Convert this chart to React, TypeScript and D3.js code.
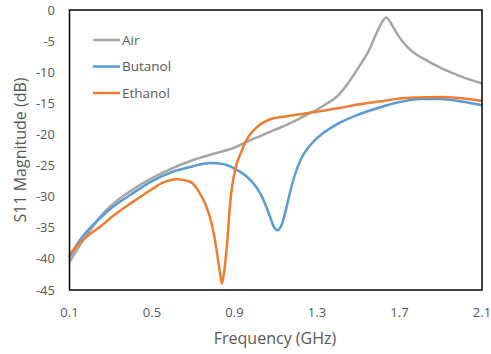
import React, { useEffect, useRef } from 'react'
import * as d3 from 'd3'

// Frequency (GHz) / S11 (dB)
const airFreq = [0.1, 0.15, 0.2, 0.25, 0.3, 0.4, 0.5, 0.6, 0.7, 0.8, 0.9, 0.95, 1.0, 1.1, 1.2, 1.25, 1.3, 1.35, 1.4, 1.45, 1.5, 1.55, 1.6, 1.635, 1.67, 1.7, 1.74, 1.78, 1.82, 1.9, 2.0, 2.1]
const airS11 = [-40.5, -37.8, -35.4, -33.2, -31.5, -29.0, -27.0, -25.4, -24.1, -23.1, -22.1, -21.3, -20.6, -19.2, -17.7, -16.8, -16.0, -15.0, -13.8, -11.8, -9.3, -6.6, -2.9, -1.2, -2.8, -4.4, -6.0, -7.1, -7.9, -9.3, -10.7, -11.8]

const butanolFreq = [0.1, 0.15, 0.2, 0.25, 0.3, 0.4, 0.5, 0.6, 0.7, 0.78, 0.85, 0.9, 0.96, 1.0, 1.03, 1.07, 1.09, 1.11, 1.13, 1.15, 1.17, 1.19, 1.22, 1.26, 1.3, 1.4, 1.5, 1.6, 1.7, 1.8, 1.9, 2.0, 2.1]
const butanolS11 = [-39.7, -37.0, -35.0, -33.4, -31.9, -29.6, -27.5, -26.0, -25.1, -24.6, -24.8, -25.5, -26.8, -28.2, -29.8, -33.0, -34.8, -35.4, -34.4, -32.0, -29.2, -26.8, -24.1, -22.0, -20.6, -18.3, -16.8, -15.7, -14.8, -14.3, -14.3, -14.7, -15.3]

const ethanolFreq = [0.1, 0.15, 0.2, 0.25, 0.3, 0.4, 0.5, 0.55, 0.62, 0.685, 0.733, 0.76, 0.785, 0.8, 0.815, 0.83, 0.839, 0.85, 0.863, 0.879, 0.89, 0.903, 0.93, 0.967, 1.009, 1.07, 1.15, 1.25, 1.4, 1.5, 1.6, 1.75, 1.9, 2.0, 2.1]
const ethanolS11 = [-39.3, -37.4, -36.0, -34.8, -33.4, -31.0, -28.8, -27.8, -27.2, -27.6, -29.5, -31.3, -33.8, -36.0, -39.0, -42.3, -44.0, -42.0, -38.0, -31.0, -28.0, -25.7, -23.0, -20.4, -18.8, -17.6, -17.1, -16.6, -15.8, -15.2, -14.7, -14.1, -14.0, -14.2, -14.6]

const xTicks = [0.1, 0.5, 0.9, 1.3, 1.7, 2.1]
const yTicks = [0, -5, -10, -15, -20, -25, -30, -35, -40, -45]

const series = [
  { name: 'Air', color: '#a5a5a5', freq: airFreq, s11: airS11 },
  { name: 'Butanol', color: '#5b9bd5', freq: butanolFreq, s11: butanolS11 },
  { name: 'Ethanol', color: '#ed7d31', freq: ethanolFreq, s11: ethanolS11 },
]

export default function App() {
  const ref = useRef<SVGSVGElement>(null)

  useEffect(() => {
    const width = 491
    const height = 354
    const left = 69.5
    const right = 482
    const top = 10
    const bottom = 290
    const font = "'Open Sans', sans-serif"
    const textColor = '#595959'

    const svg = d3.select(ref.current)
    svg.selectAll('*').remove()
    svg.attr('width', width).attr('height', height)

    svg.append('rect').attr('width', width).attr('height', height).attr('fill', '#fff')

    var xScale = d3.scaleLinear().domain([0.1, 2.1]).range([left, right])
    var yScale = d3.scaleLinear().domain([-45, 0]).range([bottom, top])

    // lines
    var line = d3.line<[number, number]>()
      .x(d => xScale(d[0]))
      .y(d => yScale(d[1]))
      .curve(d3.curveMonotoneX)

    series.forEach(s => {
      const pts = s.freq.map((f, i) => [f, s.s11[i]] as [number, number])
      svg.append('path')
        .attr('d', line(pts))
        .attr('fill', 'none')
        .attr('stroke', s.color)
        .attr('stroke-width', 2.5)
        .attr('stroke-linejoin', 'round')
    })

    // frame
    svg.append('rect')
      .attr('x', left)
      .attr('y', top)
      .attr('width', right - left)
      .attr('height', bottom - top)
      .attr('fill', 'none')
      .attr('stroke', '#000')
      .attr('stroke-width', 1.5)

    // y tick labels
    yTicks.forEach(t => {
      svg.append('text')
        .text(t)
        .attr('x', 55)
        .attr('y', yScale(t))
        .attr('dy', '0.35em')
        .attr('text-anchor', 'end')
        .attr('font-family', font)
        .attr('font-size', '13px')
        .attr('fill', textColor)
    })

    // x tick labels
    xTicks.forEach(t => {
      svg.append('text')
        .text(d3.format('.1f')(t))
        .attr('x', xScale(t))
        .attr('y', 312)
        .attr('dy', '0.35em')
        .attr('text-anchor', 'middle')
        .attr('font-family', font)
        .attr('font-size', '13px')
        .attr('fill', textColor)
    })

    // axis titles
    svg.append('text')
      .text('Frequency (GHz)')
      .attr('x', 275)
      .attr('y', 338)
      .attr('dy', '0.35em')
      .attr('text-anchor', 'middle')
      .attr('font-family', font)
      .attr('font-size', '16px')
      .attr('fill', textColor)

    svg.append('text')
      .text('S11 Magnitude (dB)')
      .attr('transform', 'translate(20,150) rotate(-90)')
      .attr('dy', '0.35em')
      .attr('text-anchor', 'middle')
      .attr('font-family', font)
      .attr('font-size', '16px')
      .attr('fill', textColor)

    // legend
    series.forEach((s, i) => {
      const y = 40 + i * 26.5
      svg.append('line')
        .attr('x1', 93)
        .attr('x2', 120)
        .attr('y1', y)
        .attr('y2', y)
        .attr('stroke', s.color)
        .attr('stroke-width', 2.5)
      svg.append('text')
        .text(s.name)
        .attr('x', 122)
        .attr('y', y)
        .attr('dy', '0.35em')
        .attr('font-family', font)
        .attr('font-size', '13.5px')
        .attr('fill', textColor)
    })
  }, [])

  return (
    <svg ref={ref} style={{ position: 'absolute', left: 0, top: 0 }}></svg>
  )
}
